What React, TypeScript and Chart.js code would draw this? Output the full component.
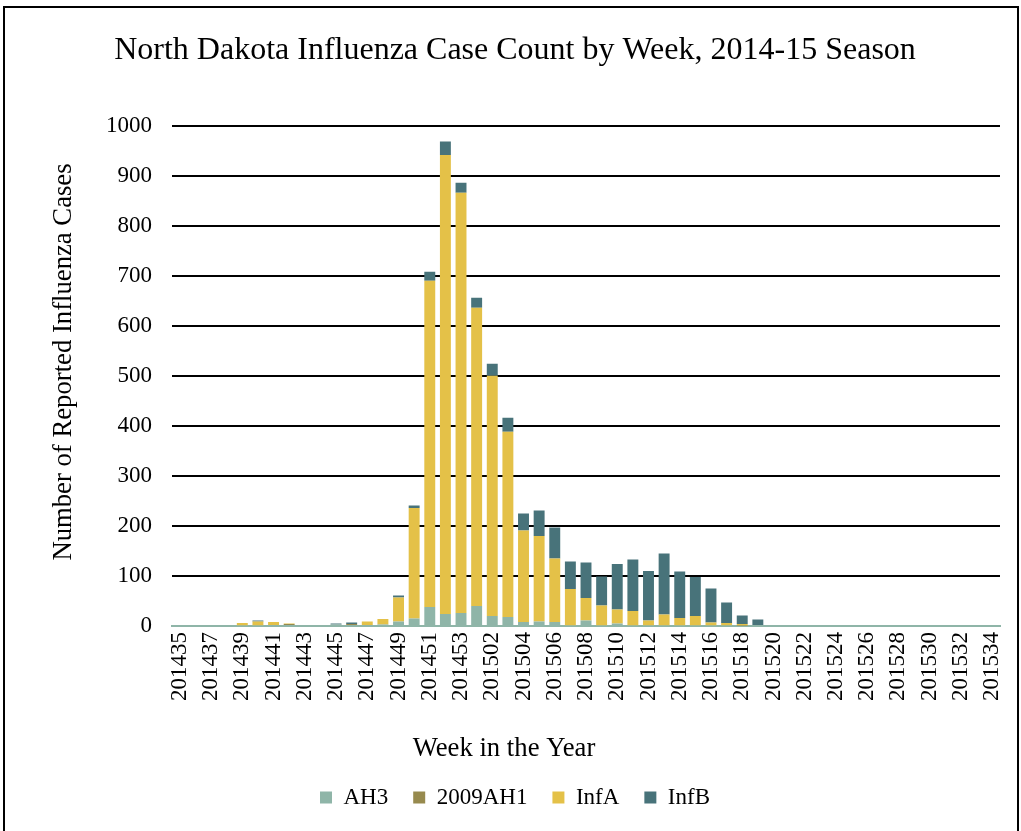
import React, { useEffect, useRef } from "react";
import { Chart, registerables } from "chart.js";

Chart.register(...registerables);

const weeks = [
  "201435", "201436", "201437", "201438", "201439", "201440", "201441", "201442", "201443", "201444",
  "201445", "201446", "201447", "201448", "201449", "201450", "201451", "201452", "201453",
  "201501", "201502", "201503", "201504", "201505", "201506", "201507", "201508", "201509", "201510",
  "201511", "201512", "201513", "201514", "201515", "201516", "201517", "201518", "201519", "201520",
  "201521", "201522", "201523", "201524", "201525", "201526", "201527", "201528", "201529", "201530",
  "201531", "201532", "201533", "201534",
];

const ah3 = [
  0, 0, 0, 0, 1, 1, 0, 2, 0, 0,
  3, 2, 2, 3, 9, 15, 38, 24, 26,
  40, 20, 18, 8, 9, 8, 1, 11, 1, 5,
  1, 1, 1, 1, 1, 1, 1, 0, 0, 0,
  0, 0, 0, 0, 0, 0, 0, 0, 0, 0,
  0, 0, 0, 0,
];

const ah1 = [
  0, 0, 0, 0, 0, 0, 0, 2, 0, 0,
  0, 2, 0, 0, 0, 0, 0, 0, 0,
  0, 0, 0, 0, 0, 0, 0, 0, 0, 0,
  0, 0, 0, 0, 0, 0, 0, 1, 0, 0,
  0, 0, 0, 0, 0, 0, 0, 0, 0, 0,
  0, 0, 0, 0,
];

const infA = [
  0, 0, 0, 0, 5, 8, 8, 1, 0, 0,
  0, 0, 7, 11, 48, 221, 653, 919, 841,
  597, 481, 371, 183, 171, 127, 73, 45, 40, 28,
  29, 10, 22, 15, 19, 6, 5, 3, 0, 0,
  0, 0, 0, 0, 0, 0, 0, 0, 0, 0,
  0, 0, 0, 0,
];

const infB = [
  0, 0, 0, 0, 0, 2, 0, 0, 0, 0,
  2, 3, 0, 0, 4, 5, 18, 27, 20,
  20, 24, 28, 34, 51, 62, 55, 71, 58, 91,
  103, 99, 122, 93, 78, 68, 41, 17, 13, 0,
  0, 0, 0, 0, 0, 0, 0, 0, 0, 0,
  0, 0, 0, 0,
];

const seriesNames = ["AH3", "2009AH1", "InfA", "InfB"];
const seriesColors = ["#8fb5a8", "#978a4e", "#e4c148", "#48737a"];

const titleText = "North Dakota Influenza Case Count by Week, 2014-15 Season";
const xTitle = "Week in the Year";
const yTitle = "Number of Reported Influenza Cases";
const yMax = 1000;
const yStep = 100;

const FONT = "'Liberation Serif', 'Times New Roman', serif";

const axisTitlePlugin = {
  id: "axisTitles",
  afterDraw(chart: any) {
    const ctx = chart.ctx;
    ctx.save();
    ctx.fillStyle = "#000";
    ctx.font = `26.7px ${FONT}`;
    ctx.textAlign = "center";
    ctx.textBaseline = "middle";
    ctx.fillText(xTitle, 504, 749);
    ctx.translate(64, 362);
    ctx.rotate(-Math.PI / 2);
    ctx.fillText(yTitle, 0, 0);
    ctx.restore();
  },
};

export default function App() {
  const canvasRef = useRef<HTMLCanvasElement | null>(null);

  useEffect(() => {
    const canvas = canvasRef.current;
    if (!canvas) return;
    const values = [ah3, ah1, infA, infB];
    const chart = new Chart(canvas, {
      type: "bar",
      data: {
        labels: weeks,
        datasets: seriesNames.map((name, i) => ({
          label: name,
          data: values[i],
          backgroundColor: seriesColors[i],
          borderWidth: 0,
          barPercentage: 0.7,
          categoryPercentage: 1,
        })),
      },
      plugins: [axisTitlePlugin],
      options: {
        responsive: false,
        animation: false,
        devicePixelRatio: 1,
        layout: { padding: { left: 30, right: 21, top: 10, bottom: 12 } },
        plugins: {
          title: {
            display: true,
            text: titleText,
            color: "#000",
            font: { family: FONT, size: 32, weight: "normal", lineHeight: 1.2 },
            padding: { top: 21, bottom: 57 },
          },
          legend: {
            position: "bottom",
            labels: {
              boxWidth: 12,
              boxHeight: 12,
              padding: 25,
              color: "#000",
              font: { family: FONT, size: 23 },
            },
          },
          tooltip: { enabled: false },
        },
        scales: {
          x: {
            stacked: true,
            grid: { display: false, drawTicks: false },
            border: { display: true, color: "#8fb5a8", width: 2 },
            ticks: {
              autoSkip: false,
              minRotation: 90,
              maxRotation: 90,
              padding: 6,
              color: "#000",
              font: { family: FONT, size: 23 },
              callback: (_v: any, idx: number) => (idx % 2 === 0 ? weeks[idx] : ""),
            },
            afterFit: (scale: any) => {
              scale.height = 135;
              scale.paddingLeft = 0;
              scale.paddingRight = 0;
            },
          },
          y: {
            stacked: true,
            min: 0,
            max: yMax,
            grid: {
              drawTicks: false,
              lineWidth: 2,
              color: (ctx: any) => (ctx.tick && ctx.tick.value === 0 ? "rgba(0,0,0,0)" : "#000"),
            },
            border: { display: false },
            ticks: {
              stepSize: yStep,
              padding: 20,
              color: "#000",
              font: { family: FONT, size: 23 },
              callback: (v: any) => String(v),
            },
            afterFit: (scale: any) => {
              scale.width = 142;
            },
          },
        },
      },
    });
    return () => chart.destroy();
  }, []);

  return (
    <div
      style={{
        position: "fixed",
        left: 0,
        top: 0,
        width: 1021,
        height: 831,
        overflow: "hidden",
        background: "#fff",
      }}
    >
      <div
        style={{
          position: "absolute",
          left: 3,
          top: 6,
          width: 1016,
          height: 900,
          boxSizing: "border-box",
          borderTop: "2px solid #000",
          borderLeft: "2px solid #000",
          borderRight: "2px solid #000",
        }}
      />
      <canvas
        ref={canvasRef}
        width={1021}
        height={831}
        style={{ position: "absolute", left: 0, top: 0, width: 1021, height: 831 }}
      />
    </div>
  );
}
